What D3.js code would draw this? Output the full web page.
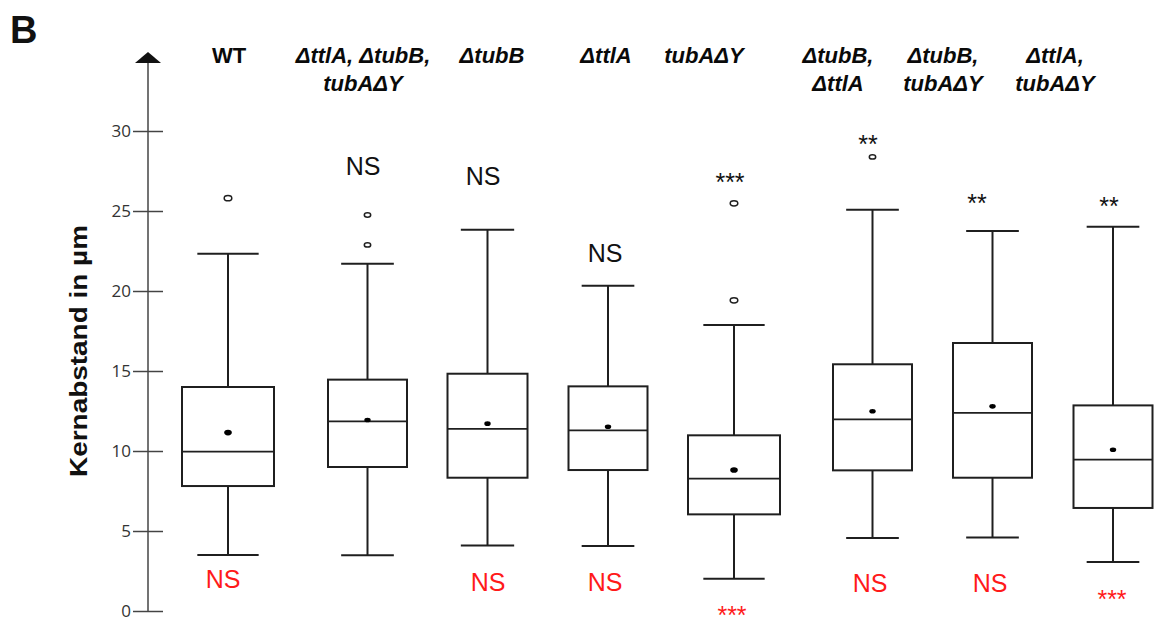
<!DOCTYPE html>
<html>
<head>
<meta charset="utf-8">
<script src="https://cdn.jsdelivr.net/npm/d3@7/dist/d3.min.js"></script>
<style>
  html, body { margin: 0; padding: 0; background: #fff; }
  svg { display: block; }
</style>
</head>
<body>
<svg id="chart" width="1155" height="617"></svg>
<script>
// ---- data: nuclear distance per strain (µm) ----
const categories = ["WT", "ΔttlA, ΔtubB, tubAΔY", "ΔtubB", "ΔttlA", "tubAΔY",
                    "ΔtubB, ΔttlA", "ΔtubB, tubAΔY", "ΔttlA, tubAΔY"];
const headerLines = [["WT"], ["ΔttlA, ΔtubB,", "tubAΔY"], ["ΔtubB"], ["ΔttlA"], ["tubAΔY"],
                     ["ΔtubB,", "ΔttlA"], ["ΔtubB,", "tubAΔY"], ["ΔttlA,", "tubAΔY"]];
const whiskerLow  = [3.5, 3.48, 4.1, 4.06, 2.02, 4.56, 4.6, 3.06];
const q1          = [7.81, 9.0, 8.33, 8.81, 6.04, 8.79, 8.33, 6.44];
const medians     = [9.96, 11.85, 11.38, 11.29, 8.27, 11.98, 12.38, 9.46];
const q3          = [14.0, 14.46, 14.83, 14.04, 10.98, 15.42, 16.75, 12.85];
const whiskerHigh = [22.33, 21.71, 23.83, 20.33, 17.88, 25.08, 23.75, 24.02];
const means       = [11.15, 11.94, 11.71, 11.52, 8.81, 12.48, 12.79, 10.08];
const outliers    = [[25.8], [22.88, 24.75], [], [], [19.42, 25.48], [28.38], [], []];
const sigTop      = ["", "NS", "NS", "NS", "***", "**", "**", "**"];
const sigBottom   = ["NS", "", "NS", "NS", "***", "NS", "NS", "***"];
const yTicks      = [0, 5, 10, 15, 20, 25, 30];

// ---- layout ----
const centers    = [228, 367.5, 487.5, 608, 734, 872.5, 992.5, 1113];
const boxWidths  = [92, 79, 80, 79, 92, 79, 79, 79];
const headerX    = [229, 363, 492, 606, 704, 838, 943, 1055];
const topLabelX  = [0, 363, 483, 605, 730, 868, 977, 1109];
const topLabelY  = [0, 175, 185, 262, 191, 152.5, 211.5, 214.5];
const botLabelX  = [223, 0, 488, 605, 732, 870, 990, 1112];
const botLabelY  = [588, 0, 591, 591, 623.5, 592, 592, 607.5];
const axisX = 148;

const svg = d3.select("#chart");
const ink = "#1f1f1f";

const y = d3.scaleLinear().domain([0, 30]).range([611, 131]);
const x = d3.scaleOrdinal().domain(categories).range(centers);

const rows = categories.map((c, i) => ({
  c, i, lo: whiskerLow[i], q1: q1[i], med: medians[i], q3: q3[i], hi: whiskerHigh[i],
  mean: means[i], out: outliers[i], w: boxWidths[i]
}));

// panel letter
svg.append("text").attr("x", 10).attr("y", 43)
  .attr("font-family", "Liberation Sans, Arial, sans-serif")
  .attr("font-weight", "bold").attr("font-size", 38).attr("fill", "#111").text("B");

// y axis with ticks on both sides of the line
const axisG = svg.append("g").attr("transform", `translate(${axisX},0)`);
const axis = d3.axisLeft(y).tickValues(yTicks).tickSizeInner(15).tickSizeOuter(0).tickPadding(2);
axisG.call(axis);
axisG.select(".domain").remove();
axisG.selectAll(".tick line").attr("x2", 15).attr("x1", -15).attr("stroke", "#444").attr("stroke-width", 1.5);
axisG.selectAll(".tick text")
  .attr("x", -17)
  .attr("font-family", "Open Sans, sans-serif").attr("font-size", 17).attr("fill", "#333")
  .attr("dy", "0.34em");
axisG.append("line").attr("x1", 0).attr("x2", 0).attr("y1", 62).attr("y2", y(0))
  .attr("stroke", "#444").attr("stroke-width", 1.5);
axisG.append("path").attr("d", "M-13,63 L0,52 L13,63 Z").attr("fill", "#111");

// y title
svg.append("text")
  .attr("transform", `translate(87,351) rotate(-90)`)
  .attr("text-anchor", "middle")
  .attr("font-family", "Liberation Sans, Arial, sans-serif")
  .attr("font-weight", "bold").attr("font-size", 23).attr("fill", "#111")
  .attr("textLength", 252).attr("lengthAdjust", "spacingAndGlyphs")
  .text("Kernabstand in µm");

// strain headers
rows.forEach(d => {
  const t = svg.append("text")
    .attr("text-anchor", "middle")
    .attr("font-family", "Liberation Sans, Arial, sans-serif")
    .attr("font-weight", "bold")
    .attr("font-style", d.i === 0 ? "normal" : "italic")
    .attr("font-size", 22).attr("fill", "#0a0a0a");
  headerLines[d.i].forEach((ln, k) => {
    t.append("tspan").attr("x", headerX[d.i]).attr("y", 63 + k * 28).text(ln);
  });
});

// boxes
const g = svg.append("g").attr("fill", "none").attr("stroke", ink).attr("stroke-width", 2);
const bx = g.selectAll("g.box").data(rows).join("g").attr("class", "box");

bx.append("line").attr("x1", d => x(d.c)).attr("x2", d => x(d.c))
  .attr("y1", d => y(d.hi)).attr("y2", d => y(d.q3));
bx.append("line").attr("x1", d => x(d.c)).attr("x2", d => x(d.c))
  .attr("y1", d => y(d.q1)).attr("y2", d => y(d.lo));
bx.append("line").attr("x1", d => x(d.c) - d.w / 3).attr("x2", d => x(d.c) + d.w / 3)
  .attr("y1", d => y(d.hi)).attr("y2", d => y(d.hi));
bx.append("line").attr("x1", d => x(d.c) - d.w / 3).attr("x2", d => x(d.c) + d.w / 3)
  .attr("y1", d => y(d.lo)).attr("y2", d => y(d.lo));
bx.append("rect").attr("x", d => x(d.c) - d.w / 2).attr("width", d => d.w)
  .attr("y", d => y(d.q3)).attr("height", d => y(d.q1) - y(d.q3)).attr("fill", "#fff");
bx.append("line").attr("x1", d => x(d.c) - d.w / 2).attr("x2", d => x(d.c) + d.w / 2)
  .attr("y1", d => y(d.med)).attr("y2", d => y(d.med)).attr("stroke-width", 1.8);
bx.append("ellipse").attr("cx", d => x(d.c)).attr("cy", d => y(d.mean))
  .attr("rx", d => d.w > 85 ? 3.8 : 3.2).attr("ry", d => d.w > 85 ? 2.8 : 2.3)
  .attr("fill", "#000").attr("stroke", "none");
bx.selectAll("ellipse.out").data(d => d.out.map(v => ({ c: d.c, v, big: d.w > 85 })))
  .join("ellipse").attr("class", "out")
  .attr("cx", d => x(d.c)).attr("cy", d => y(d.v))
  .attr("rx", d => d.big ? 3.8 : 3.2).attr("ry", d => d.big ? 2.6 : 2.2)
  .attr("stroke-width", 1.5).attr("fill", "#fff");

// significance annotations
const labelFont = "Liberation Sans, Arial, sans-serif";
rows.forEach(d => {
  if (sigTop[d.i]) {
    svg.append("text").attr("x", topLabelX[d.i]).attr("y", topLabelY[d.i])
      .attr("text-anchor", "middle").attr("font-family", labelFont)
      .attr("font-size", 25).attr("fill", "#111").text(sigTop[d.i]);
  }
  if (sigBottom[d.i]) {
    svg.append("text").attr("x", botLabelX[d.i]).attr("y", botLabelY[d.i])
      .attr("text-anchor", "middle").attr("font-family", labelFont)
      .attr("font-size", 25).attr("fill", "#ff1a1a").text(sigBottom[d.i]);
  }
});
</script>
</body>
</html>
